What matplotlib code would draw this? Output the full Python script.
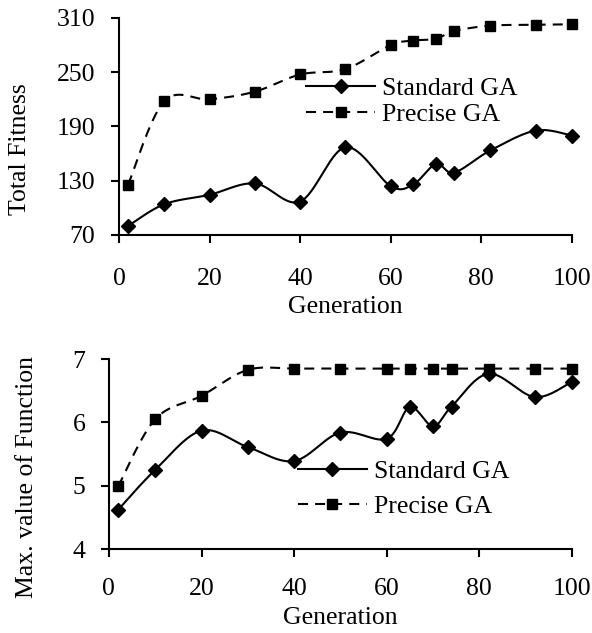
import numpy as np
import matplotlib
matplotlib.use("Agg")
import matplotlib.pyplot as plt

plt.rcParams['font.family'] = ['Liberation Serif', 'DejaVu Serif']

generation = [2, 10, 20, 30, 40, 50, 60, 65, 70, 74, 82, 92, 100]

# top chart: total fitness
fit_standard = [80, 104, 114.5, 127, 107, 167, 124, 126, 148.5, 139, 163.5, 185.5, 180]
fit_precise = [125.5, 218, 220, 228.5, 247.5, 253.5, 280, 285, 287, 295.5, 301.5, 302.5, 303]

# bottom chart: max value of function
fun_standard = [4.62, 5.25, 5.87, 5.61, 5.39, 5.84, 5.74, 6.24, 5.94, 6.25, 6.77, 6.40, 6.64]
fun_precise = [4.99, 6.05, 6.42, 6.83, 6.85, 6.85, 6.85, 6.85, 6.85, 6.85, 6.85, 6.85, 6.85]

FS = 18.5
DASH = (4.8, 3.4)


def smooth(xs, ys, n=30):
    # Excel-like smoothed line: cubic bezier through the points
    xs = np.asarray(xs, float)
    ys = np.asarray(ys, float)
    px, py = [xs[0]], [ys[0]]
    t = np.linspace(0, 1, n)[1:]
    for i in range(len(xs) - 1):
        i0 = max(i - 1, 0)
        i3 = min(i + 2, len(xs) - 1)
        c1x = xs[i] + (xs[i + 1] - xs[i0]) / 6
        c1y = ys[i] + (ys[i + 1] - ys[i0]) / 6
        c2x = xs[i + 1] - (xs[i3] - xs[i]) / 6
        c2y = ys[i + 1] - (ys[i3] - ys[i]) / 6
        bx = (1 - t) ** 3 * xs[i] + 3 * (1 - t) ** 2 * t * c1x + 3 * (1 - t) * t ** 2 * c2x + t ** 3 * xs[i + 1]
        by = (1 - t) ** 3 * ys[i] + 3 * (1 - t) ** 2 * t * c1y + 3 * (1 - t) * t ** 2 * c2y + t ** 3 * ys[i + 1]
        px.extend(bx)
        py.extend(by)
    return px, py


def draw(ax, std, pre, ylim, yticks, ylabel, leg_anchor, leg_space, ylab_pos, xlab_pos, xpad):
    sx, sy = smooth(generation, std)
    ax.plot(sx, sy, color='black', lw=1.5, clip_on=False)
    ax.plot(generation, std, 'D', color='black', ms=7.5, lw=0, clip_on=False)
    qx, qy = smooth(generation, pre)
    ax.plot(qx, qy, color='black', lw=1.5, dashes=DASH, clip_on=False)
    ax.plot(generation, pre, 's', color='black', ms=7.5, lw=0, clip_on=False)

    h1, = ax.plot([], [], color='black', lw=1.5, marker='D', ms=7.5)
    h2, = ax.plot([], [], color='black', lw=1.5, marker='s', ms=7.5, dashes=DASH)
    ax.legend([h1, h2], ['Standard GA', 'Precise GA'], loc='upper left',
              bbox_to_anchor=leg_anchor, frameon=False, fontsize=FS,
              handlelength=2.7, handletextpad=0.27, borderpad=0,
              borderaxespad=0, labelspacing=leg_space)

    ax.set_xlim(0, 100)
    ax.set_ylim(*ylim)
    ax.set_xticks([0, 20, 40, 60, 80, 100])
    ax.set_yticks(yticks)
    ax.spines['top'].set_visible(False)
    ax.spines['right'].set_visible(False)
    ax.spines['left'].set_linewidth(1.5)
    ax.spines['bottom'].set_linewidth(1.5)
    ax.tick_params(direction='out', length=6, width=1.5, labelsize=FS)
    ax.tick_params(axis='y', pad=11)
    ax.tick_params(axis='x', pad=xpad)
    ax.set_xlabel('Generation', fontsize=FS)
    ax.set_ylabel(ylabel, fontsize=FS)
    ax.xaxis.set_label_coords(*xlab_pos)
    ax.yaxis.set_label_coords(*ylab_pos)
    ax.xaxis.label.set_verticalalignment('center')
    ax.yaxis.label.set_verticalalignment('center')


fig = plt.figure(figsize=(5.92, 6.33), dpi=100)
ax1 = fig.add_axes([0.201, 0.6288, 0.765, 0.3428])
ax2 = fig.add_axes([0.184, 0.1327, 0.782, 0.300])

draw(ax1, fit_standard, fit_precise, (70, 310), [70, 130, 190, 250, 310],
     'Total Fitness', (0.413, 0.728), 0.1, (-0.2185, 0.396), (0.5, -0.33), 18)
draw(ax2, fun_standard, fun_precise, (4, 7), [4, 5, 6, 7],
     'Max. value of Function', (0.408, 0.468), 0.48, (-0.177, 0.379), (0.5, -0.363), 15)

fig.savefig('out.png', dpi=100)
